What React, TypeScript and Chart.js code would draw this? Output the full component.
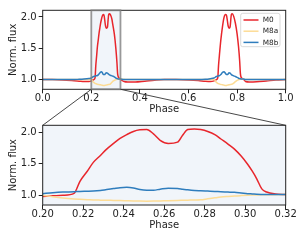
import React, { useEffect, useRef } from "react";
import { Chart, registerables } from "chart.js";
Chart.register(...registerables);

const W = 307;
const H = 242;

// ---- data ----
const zoomRange = [0.2, 0.32];
const yRange = [0.845, 2.107];
const topXTicks = [0.0, 0.2, 0.4, 0.6, 0.8, 1.0];
const botXTicks = [0.2, 0.22, 0.24, 0.26, 0.28, 0.3, 0.32];
const yTicks = [1.0, 1.5, 2.0];
const seriesNames = ["M0", "M8a", "M8b"];

// first transit (also the zoomed panel)
const eventPhase = [0.200, 0.205, 0.210, 0.2155, 0.2184, 0.222, 0.225, 0.2285, 0.2316, 0.235, 0.2382, 0.2415, 0.2448, 0.248, 0.2514, 0.2547, 0.258, 0.262, 0.2666, 0.2691, 0.2716, 0.2749, 0.278, 0.2815, 0.285, 0.288, 0.2915, 0.2947, 0.298, 0.3012, 0.3035, 0.3057, 0.3082, 0.3106, 0.315, 0.320];
const eventM0 = [0.98, 0.99, 1.00, 1.03, 1.22, 1.38, 1.52, 1.63, 1.73, 1.82, 1.90, 1.96, 2.01, 2.035, 2.04, 1.97, 1.87, 1.82, 1.84, 1.95, 2.04, 2.05, 2.04, 2.01, 1.96, 1.89, 1.81, 1.73, 1.62, 1.49, 1.38, 1.26, 1.10, 1.05, 1.02, 1.01];
const eventM8a = [1.0, 0.975, 0.955, 0.94, 0.935, 0.93, 0.925, 0.922, 0.92, 0.918, 0.916, 0.913, 0.91, 0.907, 0.906, 0.907, 0.91, 0.914, 0.918, 0.92, 0.922, 0.924, 0.928, 0.943, 0.958, 0.97, 0.98, 0.988, 0.994, 0.999, 1.002, 1.004, 1.006, 1.007, 1.008, 1.01];
const eventM8b = [1.025, 1.04, 1.05, 1.055, 1.06, 1.062, 1.065, 1.075, 1.09, 1.105, 1.12, 1.125, 1.115, 1.09, 1.08, 1.08, 1.095, 1.11, 1.105, 1.095, 1.085, 1.075, 1.07, 1.065, 1.06, 1.055, 1.05, 1.045, 1.035, 1.025, 1.02, 1.015, 1.012, 1.01, 1.01, 1.01];

// second transit (top panel only)
const event2Phase = [0.705, 0.715, 0.7205, 0.7235, 0.727, 0.733, 0.740, 0.746, 0.752, 0.756, 0.760, 0.763, 0.767, 0.771, 0.7765, 0.780, 0.786, 0.793, 0.800, 0.806, 0.8105, 0.8135, 0.8155, 0.820, 0.825];
const event2M0 = [0.98, 1.00, 1.03, 1.22, 1.38, 1.63, 1.85, 1.99, 2.04, 2.03, 1.94, 1.86, 1.82, 1.84, 2.04, 2.05, 2.01, 1.90, 1.73, 1.52, 1.30, 1.10, 1.05, 1.02, 1.01];
const event2M8a = [1.0, 0.955, 0.94, 0.935, 0.93, 0.922, 0.918, 0.912, 0.907, 0.907, 0.912, 0.915, 0.918, 0.92, 0.925, 0.928, 0.945, 0.968, 0.988, 0.998, 1.004, 1.006, 1.007, 1.008, 1.01];
const event2M8b = [1.025, 1.05, 1.055, 1.06, 1.062, 1.08, 1.115, 1.125, 1.10, 1.08, 1.08, 1.09, 1.11, 1.105, 1.08, 1.07, 1.06, 1.05, 1.035, 1.022, 1.015, 1.012, 1.01, 1.01, 1.01];

// out-of-transit baseline
const leftPhase = [0.0, 0.04, 0.08, 0.12, 0.15, 0.17, 0.19];
const leftM0 = [1.0, 1.0, 0.995, 0.985, 0.975, 0.968, 0.97];
const leftM8a = [1.0, 1.0, 1.0, 1.0, 1.0, 1.0, 1.0];
const leftM8b = [1.0, 1.0, 1.0, 1.0, 1.005, 1.01, 1.018];

const midPhase = [0.325, 0.335, 0.35, 0.38, 0.42, 0.46, 0.5, 0.55, 0.6, 0.64, 0.67, 0.69];
const midM0 = [0.99, 0.97, 0.962, 0.962, 0.975, 0.99, 1.0, 1.0, 0.995, 0.985, 0.972, 0.968];
const midM8a = [1.008, 1.004, 1.0, 1.0, 1.0, 1.0, 1.0, 1.0, 1.0, 1.0, 1.0, 1.0];
const midM8b = [1.005, 1.0, 1.0, 1.0, 1.0, 1.0, 1.0, 1.0, 1.0, 1.0, 1.005, 1.015];

const rightPhase = [0.835, 0.85, 0.88, 0.92, 0.96, 1.0];
const rightM0 = [0.97, 0.962, 0.965, 0.978, 0.992, 1.0];
const rightM8a = [1.0, 1.0, 1.0, 1.0, 1.0, 1.0];
const rightM8b = [1.0, 1.0, 1.0, 1.0, 1.0, 1.0];

// ---- styles ----
const FONT = "'DejaVu Sans', sans-serif";
const INK = "#222222";
const FILL = "#f1f5fa";
const COLORS = ["#e8262c", "#fddc95", "#2f7dbd"];
const ORDERS = [3, 2, 1];

function zip(xs: number[], ys: number[]) {
  return xs.map((x, i) => ({ x, y: ys[i] }));
}

function makeDatasets(parts: { xs: number[]; ys: number[][] }[]) {
  return seriesNames.map((name, k) => ({
    label: name,
    data: parts.flatMap((p) => zip(p.xs, p.ys[k])),
    borderColor: COLORS[k],
    backgroundColor: COLORS[k],
    borderWidth: 1.5,
    pointRadius: 0,
    fill: false,
    cubicInterpolationMode: "monotone" as const,
    order: ORDERS[k],
  }));
}

function makeScales(xmin: number, xmax: number, xticks: number[], dec: number) {
  return {
    x: {
      type: "linear" as const,
      min: xmin,
      max: xmax,
      afterFit: (s: any) => {
        s.height = 26;
      },
      afterBuildTicks: (s: any) => {
        s.ticks = xticks.map((v) => ({ value: v }));
      },
      ticks: {
        callback: (v: any) => Number(v).toFixed(dec),
        font: { family: FONT, size: 10, lineHeight: 1 },
        color: INK,
        padding: 0,
        maxRotation: 0,
        autoSkip: false,
      },
      grid: { display: true, drawOnChartArea: false, drawTicks: true, tickLength: 4, color: INK, lineWidth: 1 },
      border: { display: false },
      title: { display: true, text: "Phase", font: { family: FONT, size: 10 }, color: INK, padding: 0 },
    },
    y: {
      type: "linear" as const,
      min: yRange[0],
      max: yRange[1],
      afterFit: (s: any) => {
        s.width = 35;
      },
      afterBuildTicks: (s: any) => {
        s.ticks = yTicks.map((v) => ({ value: v }));
      },
      ticks: {
        callback: (v: any) => Number(v).toFixed(1),
        font: { family: FONT, size: 10, lineHeight: 1 },
        color: INK,
        padding: 2,
      },
      grid: { display: true, drawOnChartArea: false, drawTicks: true, tickLength: 4, color: INK, lineWidth: 1 },
      border: { display: false },
      title: { display: true, text: "Norm. flux", font: { family: FONT, size: 10 }, color: INK, padding: { top: 0, bottom: 0 } },
    },
  };
}

function drawFrame(chart: any) {
  const { ctx, chartArea: a } = chart;
  ctx.save();
  ctx.strokeStyle = INK;
  ctx.lineWidth = 1;
  ctx.strokeRect(a.left, a.top, a.right - a.left, a.bottom - a.top);
  ctx.restore();
}

export default function App() {
  const topRef = useRef<HTMLCanvasElement>(null);
  const botRef = useRef<HTMLCanvasElement>(null);

  useEffect(() => {
    const topChart = new Chart(topRef.current!, {
      type: "line",
      data: {
        datasets: makeDatasets([
          { xs: leftPhase, ys: [leftM0, leftM8a, leftM8b] },
          { xs: eventPhase, ys: [eventM0, eventM8a, eventM8b] },
          { xs: midPhase, ys: [midM0, midM8a, midM8b] },
          { xs: event2Phase, ys: [event2M0, event2M8a, event2M8b] },
          { xs: rightPhase, ys: [rightM0, rightM8a, rightM8b] },
        ]) as any,
      },
      options: {
        responsive: false,
        animation: false,
        devicePixelRatio: 1,
        layout: { padding: { left: 7.7, right: 21.3, top: 10.3, bottom: 242 - 89.3 - 26 } },
        plugins: { legend: { display: false }, tooltip: { enabled: false } },
        scales: makeScales(0, 1, topXTicks, 1) as any,
      },
      plugins: [
        {
          id: "topDecor",
          beforeDatasetsDraw(chart: any) {
            const { ctx, chartArea: a, scales } = chart;
            const x0 = scales.x.getPixelForValue(zoomRange[0]);
            const x1 = scales.x.getPixelForValue(zoomRange[1]);
            ctx.save();
            ctx.fillStyle = FILL;
            ctx.fillRect(x0, a.top, x1 - x0, a.bottom - a.top);
            ctx.restore();
          },
          afterDatasetsDraw(chart: any) {
            const { ctx, chartArea: a, scales } = chart;
            drawFrame(chart);
            const x0 = scales.x.getPixelForValue(zoomRange[0]);
            const x1 = scales.x.getPixelForValue(zoomRange[1]);
            ctx.save();
            ctx.strokeStyle = "rgba(128,128,128,0.8)";
            ctx.lineWidth = 1.8;
            ctx.strokeRect(x0, a.top, x1 - x0, a.bottom - a.top);
            ctx.restore();
          },
          afterDraw(chart: any) {
            const { ctx } = chart;
            ctx.save();
            const bx = 240.7, by = 13.3, bw = 39.3, bh = 33.4, r = 2;
            ctx.beginPath();
            ctx.moveTo(bx + r, by);
            ctx.arcTo(bx + bw, by, bx + bw, by + bh, r);
            ctx.arcTo(bx + bw, by + bh, bx, by + bh, r);
            ctx.arcTo(bx, by + bh, bx, by, r);
            ctx.arcTo(bx, by, bx + bw, by, r);
            ctx.closePath();
            ctx.fillStyle = "rgba(255,255,255,0.85)";
            ctx.fill();
            ctx.strokeStyle = "#d0d0d0";
            ctx.lineWidth = 0.8;
            ctx.stroke();
            ctx.font = `7.3px ${FONT}`;
            ctx.textBaseline = "middle";
            ctx.textAlign = "left";
            chart.data.datasets.forEach((ds: any, i: number) => {
              const yy = 20 + i * 11.2;
              ctx.strokeStyle = ds.borderColor;
              ctx.lineWidth = 1.5;
              ctx.beginPath();
              ctx.moveTo(243.5, yy);
              ctx.lineTo(258.5, yy);
              ctx.stroke();
              ctx.fillStyle = INK;
              ctx.fillText(ds.label, 262.7, yy + 0.3);
            });
            ctx.restore();
          },
        },
      ],
    });

    const botChart = new Chart(botRef.current!, {
      type: "line",
      data: {
        datasets: makeDatasets([{ xs: eventPhase, ys: [eventM0, eventM8a, eventM8b] }]) as any,
      },
      options: {
        responsive: false,
        animation: false,
        devicePixelRatio: 1,
        layout: { padding: { left: 7.7, right: 21.3, top: 125.3, bottom: 242 - 205 - 26 } },
        plugins: { legend: { display: false }, tooltip: { enabled: false } },
        scales: makeScales(zoomRange[0], zoomRange[1], botXTicks, 2) as any,
      },
      plugins: [
        {
          id: "botDecor",
          beforeDatasetsDraw(chart: any) {
            const { ctx, chartArea: a } = chart;
            ctx.save();
            ctx.fillStyle = FILL;
            ctx.fillRect(a.left, a.top, a.right - a.left, a.bottom - a.top);
            ctx.restore();
          },
          afterDatasetsDraw(chart: any) {
            drawFrame(chart);
          },
          afterDraw(chart: any) {
            const { ctx, chartArea: a } = chart;
            const tx = topChart.scales.x;
            const tb = topChart.chartArea.bottom;
            ctx.save();
            ctx.strokeStyle = "#333333";
            ctx.lineWidth = 0.9;
            ctx.beginPath();
            ctx.moveTo(tx.getPixelForValue(zoomRange[0]), tb);
            ctx.lineTo(a.left, a.top);
            ctx.moveTo(tx.getPixelForValue(zoomRange[1]), tb);
            ctx.lineTo(a.right, a.top);
            ctx.stroke();
            ctx.restore();
          },
        },
      ],
    });

    return () => {
      botChart.destroy();
      topChart.destroy();
    };
  }, []);

  return (
    <div style={{ position: "fixed", left: 0, top: 0, width: W, height: H, background: "#ffffff" }}>
      <canvas ref={topRef} width={W} height={H} style={{ position: "absolute", left: 0, top: 0, width: W, height: H }} />
      <canvas ref={botRef} width={W} height={H} style={{ position: "absolute", left: 0, top: 0, width: W, height: H }} />
    </div>
  );
}
